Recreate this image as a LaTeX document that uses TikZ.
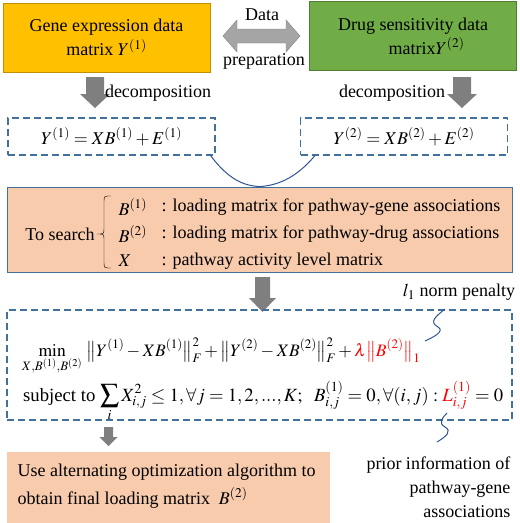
\documentclass[tikz,border=0pt]{standalone}
\usepackage{amsmath}
\usepackage{mathptmx}
\usepackage[no-math]{fontspec}
\setmainfont{Liberation Serif}
\usepackage{tikz}
\usetikzlibrary{arrows.meta, shapes, shapes.arrows}

\definecolor{geneyellow}{HTML}{FFC000}
\definecolor{geneline}{HTML}{BF9000}
\definecolor{druggreen}{HTML}{70AD47}
\definecolor{drugline}{HTML}{507E32}
\definecolor{salmon}{HTML}{F8CBAD}
\definecolor{frameblue}{HTML}{41719C}
\definecolor{curveblue}{HTML}{2F5597}
\definecolor{arrowgrey}{HTML}{7F7F7F}
\definecolor{prepgrey}{HTML}{A5A5A5}

\tikzset{
  databox/.style={rectangle, thick, minimum width=207pt, minimum height=69pt, align=center, inner sep=0pt},
  eqbox/.style={rectangle, draw=frameblue, line width=1.2pt, dash pattern=on 7pt off 4pt},
  blockarrow/.style={fill=arrowgrey, draw=none},
  squiggle/.style={draw=curveblue, line width=1pt}
}

\begin{document}
\begin{tikzpicture}[x=1pt, y=-1pt, font=\fontsize{18}{24}\selectfont]
\useasboundingbox (0,0) rectangle (520,523);

\begin{scope}[every node/.style={databox}]
  \node[fill=geneyellow, draw=geneline] (gene) at (106.5,37.5) {Gene expression data\\matrix $Y^{(1)}$};
  \node[fill=druggreen, draw=drugline] (drug) at (413,36) {Drug sensitivity data\\ \hspace*{1.5em}matrix$Y^{(2)}$};
\end{scope}

% data preparation
\filldraw[fill=prepgrey, draw=arrowgrey, thin] (223,36) -- (237,20) -- (237,29) -- (286,29) -- (286,20)
  -- (300,36) -- (286,52) -- (286,43) -- (237,43) -- (237,52) -- cycle;
\node (data) at (262,15) {Data};
\node (prepl) at (264,61) {preparation};

% decomposition arrows
\fill[blockarrow] (86,77) -- (104,77) -- (104,94) -- (110,94) -- (95,108) -- (80,94) -- (86,94) -- cycle;
\fill[blockarrow] (453,77) -- (471,77) -- (471,94) -- (477,94) -- (462,108) -- (447,94) -- (453,94) -- cycle;
\node (decl-lab) at (158,93) {decomposition};
\node (decr-lab) at (392,93) {decomposition};

\begin{scope}[every node/.style={eqbox, minimum width=207pt, minimum height=37pt}]
  \node (eql) at (111.5,136.5) {$Y^{(1)} = XB^{(1)} + E^{(1)}$};
  \node (eqr) at (404,136.5) {$Y^{(2)} = XB^{(2)} + E^{(2)}$};
\end{scope}

% search box
\node[rectangle, fill=salmon, draw=frameblue, thick, minimum width=505pt, minimum height=85pt] (search) at (259.5,229.5) {};
\node (tosearch) at (60,234) {To search};
\draw[thin] (111,196) .. controls (104,196) .. (104,202) -- (104,228)
  .. controls (104,234) .. (97,234) .. controls (104,234) .. (104,240)
  -- (104,262) .. controls (104,268) .. (111,268);
\begin{scope}[every node/.style={anchor=west}]
  \node (b1) at (115,207) {$B^{(1)}$};
  \node (b2) at (115,234) {$B^{(2)}$};
  \node (xx) at (115,261) {$X$};
  \node (b1t) at (158,207) {: loading matrix for pathway-gene associations};
  \node (b2t) at (158,234) {: loading matrix for pathway-drug associations};
  \node (xxt) at (158,261) {: pathway activity level matrix};
\end{scope}

% merge the two decompositions
\coordinate (cl) at ([xshift=-5pt]eql.south east);
\coordinate (cr) at ([xshift=15pt]eqr.south west);
\draw[curveblue, line width=1pt] (cl) .. controls +(18,24) and +(-16,-1) .. (search.north)
  .. controls +(16,-1) and +(-20,24) .. (cr);

\fill[blockarrow] (255,277) -- (270,277) -- (270,298) -- (276,298) -- (262.5,312) -- (249,298) -- (255,298) -- cycle;

% optimization problem
\node[eqbox, minimum width=505pt, minimum height=110pt] (opt) at (259.5,365) {};
\node[anchor=base west, inner sep=0pt, font=\fontsize{17.5}{21}\selectfont] (objective) at (22,356)
  {$\displaystyle\min_{X,B^{(1)},B^{(2)}}\ \bigl\|Y^{(1)}-XB^{(1)}\bigr\|_F^2+\bigl\|Y^{(2)}-XB^{(2)}\bigr\|_F^2+{\color{red}\lambda\bigl\|B^{(2)}\bigr\|_1}$};
\node[anchor=base west, inner sep=0pt, font=\fontsize{18.7}{22}\selectfont] (constraint) at (23,401)
  {subject to $\displaystyle\sum_i X_{i,j}^2\le 1,\forall j=1,2,...,K;\ \ B_{i,j}^{(1)}=0,\forall(i,j):{\color{red}L_{i,j}^{(1)}}=0$};

\node (penalty) at (459,292) {$l_1$ norm penalty};
\coordinate (pentop) at (445,309);
\coordinate (penbot) at (425,341);
\draw[squiggle] (pentop) .. controls (435,317) and (429,322) .. (438,327)
  .. controls (445,331) and (434,337) .. (penbot);

\coordinate (priortop) at (447,413);
\coordinate (priorbot) at (437,442);
\draw[squiggle] (priortop) .. controls (442,418) and (438,423) .. (445,427)
  .. controls (452,431) and (447,436) .. (priorbot);
\node[align=right, anchor=east] (prior) at (514,487) {prior information of\\pathway-gene\\associations};

\fill[blockarrow] (104,427) -- (113,427) -- (113,437) -- (117.5,437) -- (108.5,446) -- (99.5,437) -- (104,437) -- cycle;
\node[rectangle, fill=salmon, minimum width=323pt, minimum height=71pt] (final) at (168.5,487.5) {};
\node[anchor=west, align=left, font=\fontsize{18}{28}\selectfont] (finaltext) at (14,486)
  {Use alternating optimization algorithm to\\obtain final loading matrix \ $B^{(2)}$};
\end{tikzpicture}
\end{document}
